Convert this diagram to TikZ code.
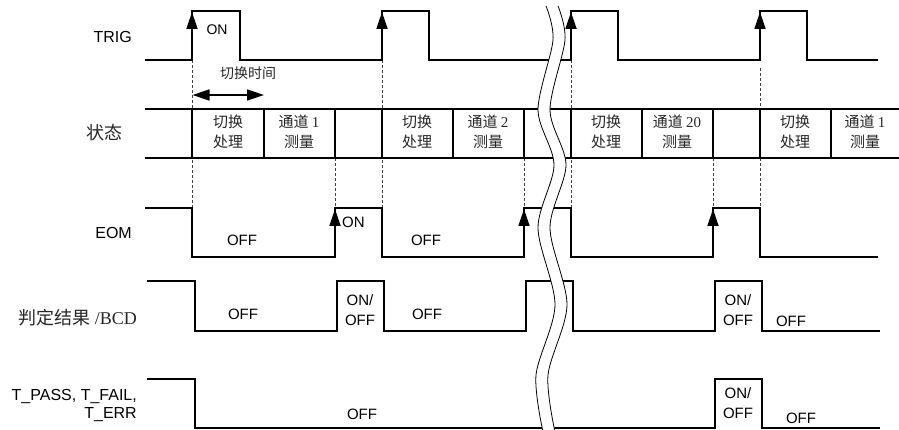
\documentclass[tikz,border=0pt]{standalone}
\usepackage{fontspec}
\setmainfont{Liberation Sans}
\newfontfamily\cjk{Noto Sans CJK SC}
\newfontfamily\serif{Liberation Serif}
\usetikzlibrary{arrows.meta}
\begin{document}
\begin{tikzpicture}[x=1pt,y=-1pt,
  sig/.style={line width=1.8pt,line join=miter},
  guide/.style={line width=0.8pt,dash pattern=on 3pt off 2pt,black!75},
  risearrow/.style={line width=1.8pt,-{Triangle[length=17pt,width=11pt]}},
  lbl/.style={anchor=east,inner sep=0pt,font=\fontsize{16}{18}\selectfont},
  cjklbl/.style={anchor=east,inner sep=0pt,font=\fontsize{18}{20}\selectfont\cjk,black!85},
  lvl/.style={inner sep=0pt,font=\fontsize{15}{20}\selectfont,align=center},
  st/.style={inner sep=0pt,font=\fontsize{15}{20}\selectfont\cjk,align=center,black!85},
  brk/.style={line width=0.8pt}
]
\useasboundingbox (0,0) rectangle (899,430);

% guides
\foreach \x in {192,382,571} \draw[guide] (\x,60) -- (\x,208);
\draw[guide] (760,68) -- (760,208);
\foreach \x in {335,524,713} \draw[guide] (\x,158) -- (\x,208);

% TRIG
\draw[sig] (145,60) -- (192,60) -- (192,11) -- (240,11) -- (240,60) -- (382,60) -- (382,11) -- (429,11) -- (429,60)
  -- (571,60) -- (571,11) -- (618,11) -- (618,60) -- (760,60) -- (760,11) -- (807,11) -- (807,60) -- (878,60);
\foreach \x in {192,382,571,760} \draw[risearrow] (\x,45) -- (\x,12);

% switching time arrow
\draw[line width=1.5pt,{Triangle[length=17pt,width=11pt]}-{Triangle[length=17pt,width=11pt]}] (192.5,95) -- (264,95);

% state row
\draw[sig] (145,109) -- (899,109);
\draw[sig] (145,158) -- (899,158);
\foreach \x in {192,264,335,382,453,524,571,642,713,760,831} \draw[sig] (\x,109) -- (\x,158);

% EOM
\draw[sig] (145,208) -- (192,208) -- (192,257) -- (335,257) -- (335,208) -- (382,208) -- (382,257) -- (524,257)
  -- (524,208) -- (571,208) -- (571,257) -- (713,257) -- (713,208) -- (760,208) -- (760,257) -- (878,257);
\foreach \x in {335,524,713} \draw[risearrow] (\x,240) -- (\x,209);

% BCD
\draw[sig] (147,281) -- (195,281) -- (195,331) -- (337,331) -- (337,281) -- (384,281) -- (384,331) -- (526,331)
  -- (526,281) -- (573,281) -- (573,331) -- (715,331) -- (715,281) -- (762,281) -- (762,331) -- (880,331);

% T_PASS
\draw[sig] (147,379) -- (195,379) -- (195,428) -- (715,428) -- (715,379) -- (762,379) -- (762,428) -- (880,428);

% break
\fill[white] plot[smooth] coordinates {(546,6) (553,40) (538,110) (554,165) (538,228) (555,305) (536,375) (543,432)}
  -- plot[smooth] coordinates {(555,432) (548,375) (567,305) (550,228) (566,165) (550,110) (565,40) (558,6)} -- cycle;
\draw[brk] plot[smooth] coordinates {(546,6) (553,40) (538,110) (554,165) (538,228) (555,305) (536,375) (543,432)};
\draw[brk] plot[smooth] coordinates {(558,6) (565,40) (550,110) (566,165) (550,228) (567,305) (548,375) (555,432)};

% labels
\node[lbl] (ltrig) at (132,37) {TRIG};
\node[cjklbl] (lstate) at (123,133) {状态};
\node[lbl] (leom) at (132,233) {EOM};
\node[cjklbl] (lbcd) at (137,318) {判定结果 {\serif /BCD}};
\node[lbl] (lt1) at (137,397) {T\_PASS, T\_FAIL,};
\node[lbl] (lt2) at (137,415) {T\_ERR};

% TRIG text
\node[lvl,font=\fontsize{14}{16}\selectfont] (ton) at (217,30) {ON};
\node[st,font=\fontsize{14}{16}\selectfont\cjk] (tsw) at (248,73) {切换时间};

% state texts
\node[st] (s1) at (228,132) {切换\\处理};
\node[st] (s2) at (299,132) {通道 {\serif 1}\\测量};
\node[st] (s3) at (417,132) {切换\\处理};
\node[st] (s4) at (488,132) {通道 {\serif 2}\\测量};
\node[st] (s5) at (606,132) {切换\\处理};
\node[st] (s6) at (677,132) {通道 {\serif 20}\\测量};
\node[st] (s7) at (795,132) {切换\\处理};
\node[st] (s8) at (865,132) {通道 {\serif 1}\\测量};

% EOM texts
\node[lvl] (e1) at (242,240) {OFF};
\node[lvl,anchor=west] (e2) at (342,222) {ON};
\node[lvl] (e3) at (426,240) {OFF};

% BCD texts
\node[lvl] (b1) at (243,314) {OFF};
\node[lvl] (b2) at (360,310.5) {ON/\\OFF};
\node[lvl] (b3) at (427,314) {OFF};
\node[lvl] (b4) at (738,310.5) {ON/\\OFF};
\node[lvl] (b5) at (791,321) {OFF};

% T texts
\node[lvl] (t1) at (362,414) {OFF};
\node[lvl] (t2) at (738,403.5) {ON/\\OFF};
\node[lvl] (t3) at (801,418) {OFF};
\end{tikzpicture}
\end{document}
